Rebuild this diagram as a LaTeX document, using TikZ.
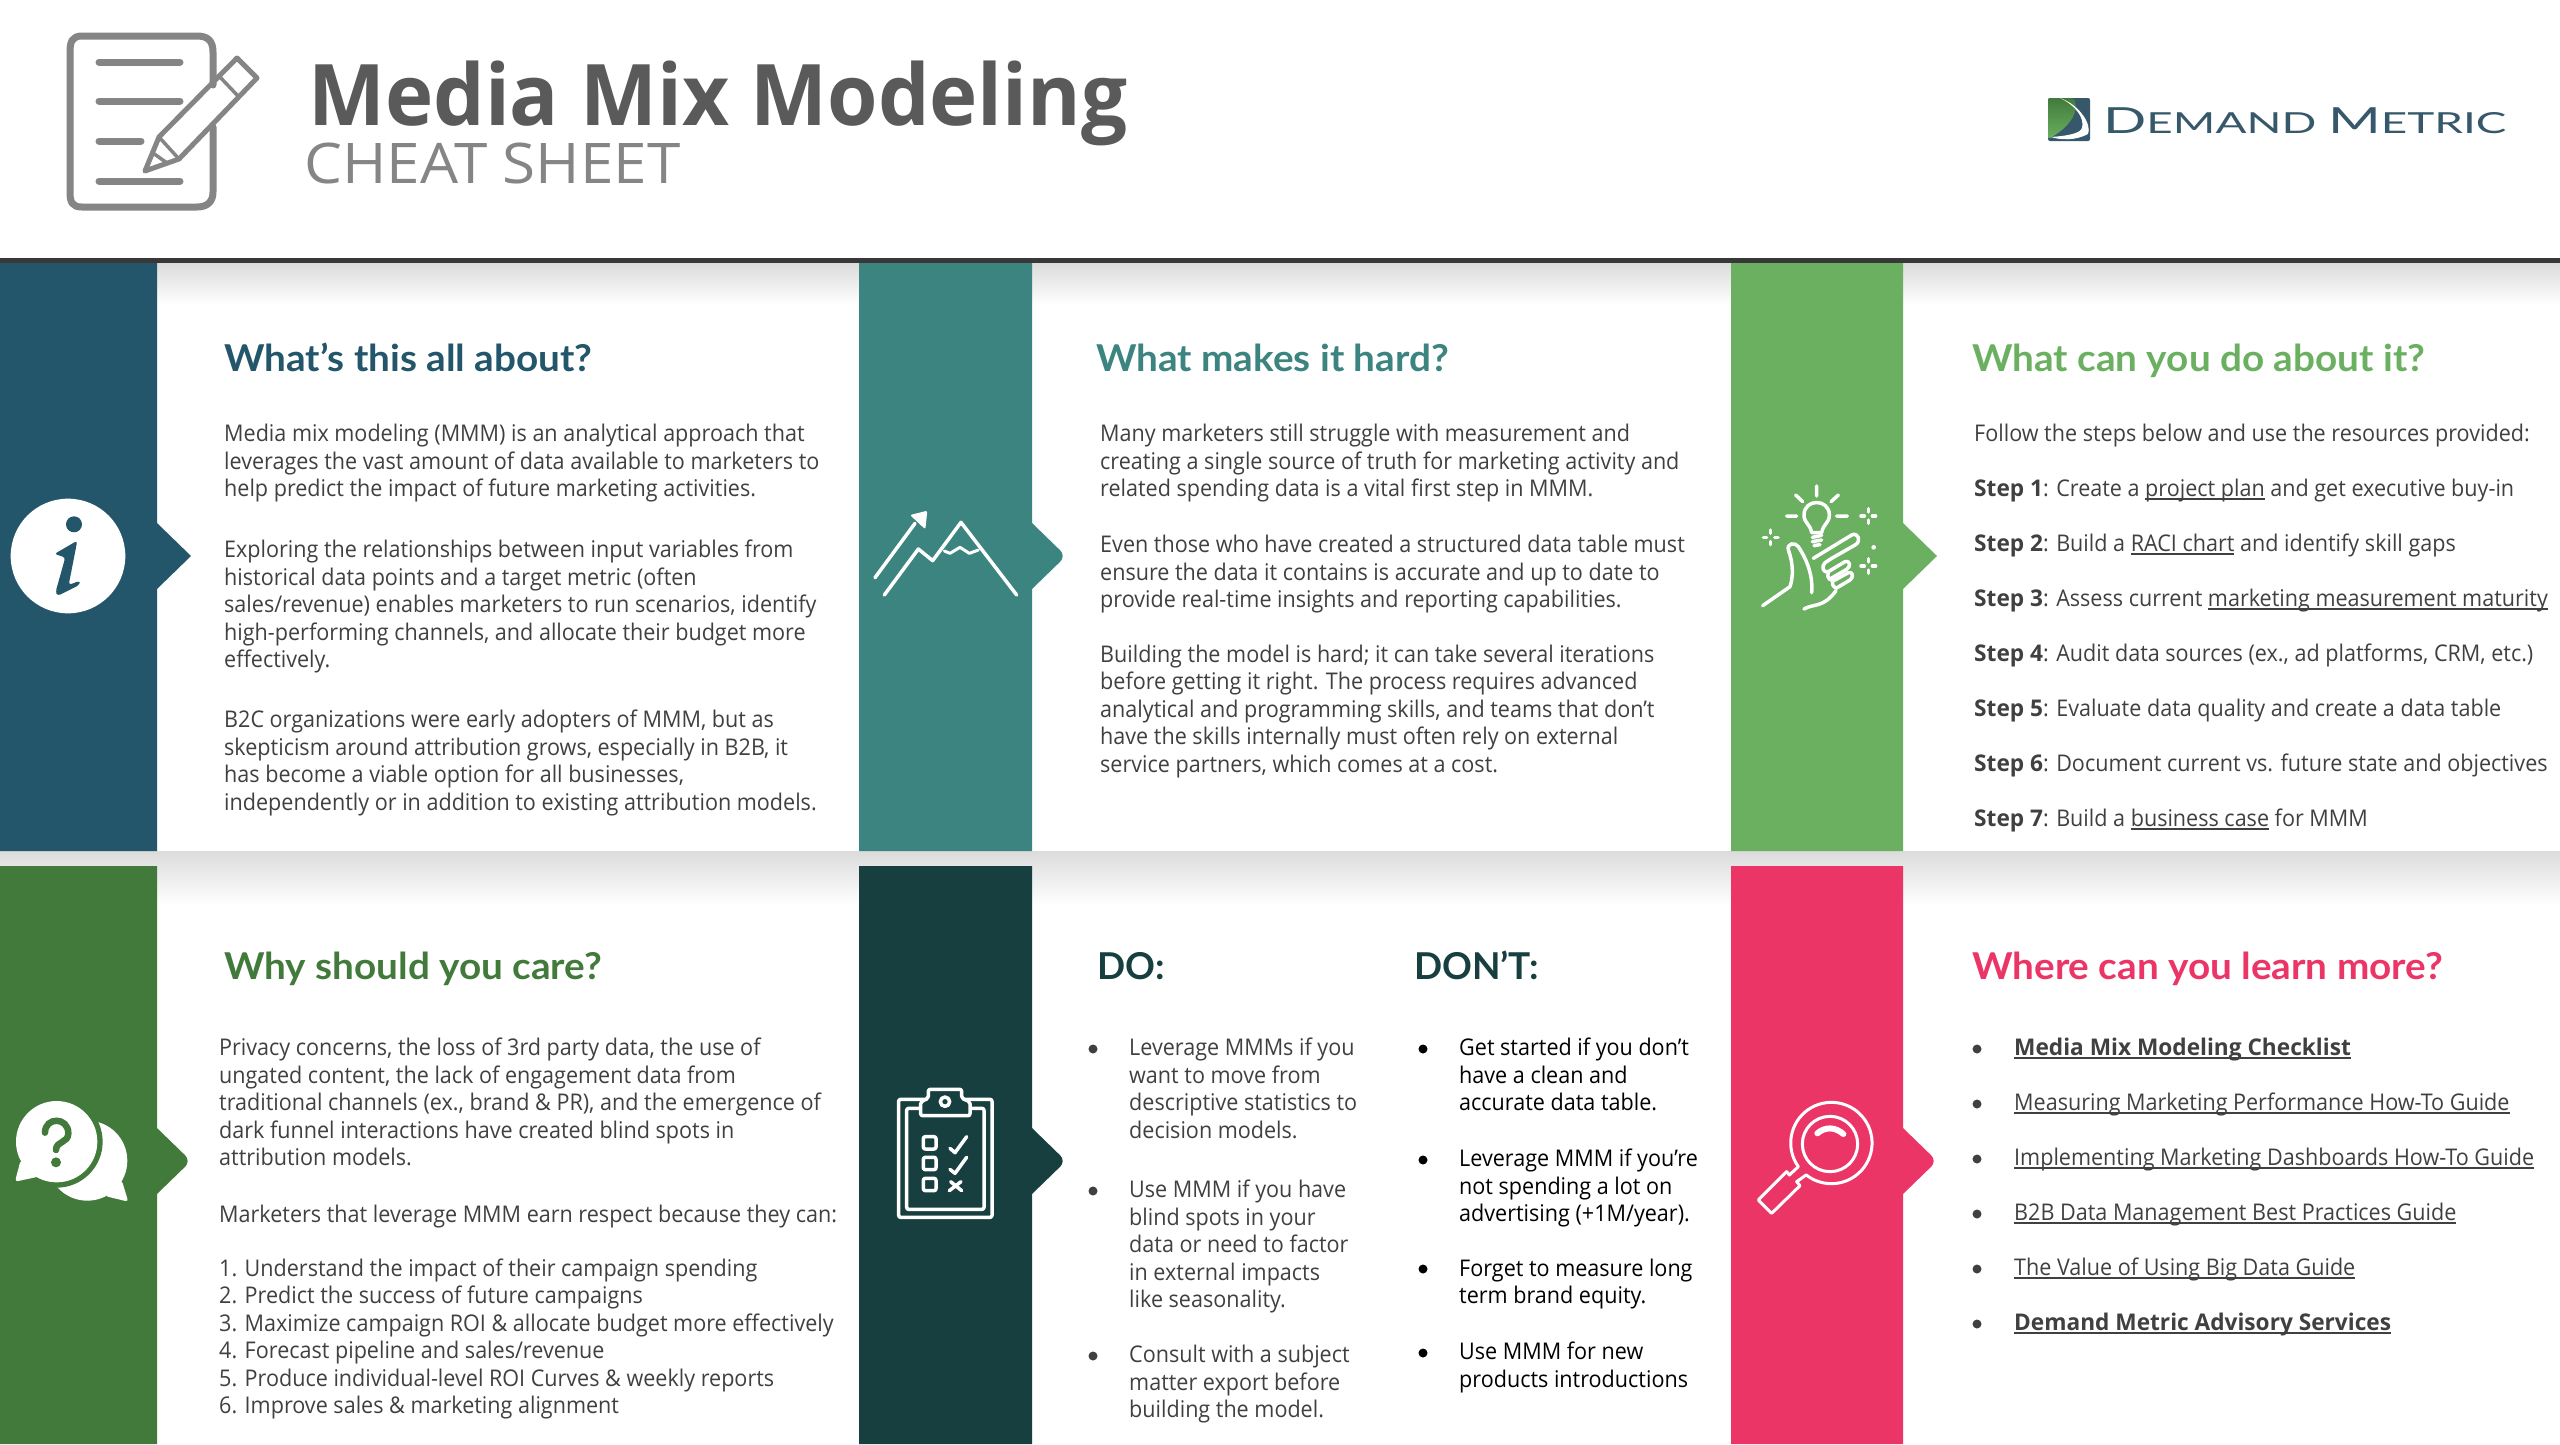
\documentclass[tikz,border=0pt]{standalone}
\usepackage{fontspec}
\usepackage{xcolor}
\setmainfont{Open Sans}[FakeStretch=0.9375,BoldFeatures={FakeStretch=0.985}]
\newfontfamily\titlefont{Open Sans}[FakeStretch=0.96]
\newfontfamily\cheatfont{Open Sans}[FakeStretch=1.075]
\newfontfamily\headfont{Lato}[FakeStretch=1.045]
\newfontfamily\capsfont{Lato}
\usetikzlibrary{positioning}

\definecolor{barblue}{HTML}{23566B}
\definecolor{barteal}{HTML}{3C8480}
\definecolor{barlime}{HTML}{6AB060}
\definecolor{barmoss}{HTML}{427A3C}
\definecolor{barpine}{HTML}{173F3F}
\definecolor{barrose}{HTML}{EC3567}
\definecolor{bodygray}{HTML}{404040}
\definecolor{titlegray}{HTML}{5A5A5A}
\definecolor{icongray}{HTML}{858585}
\definecolor{logoblue}{HTML}{36586A}

\newcommand{\bodyfont}{\fontsize{23}{27.5}\selectfont}
\newcommand{\headsize}{\fontsize{37}{40}\selectfont\headfont\bfseries}

% strip with its tab: x0, x1, top, bottom, middle, colour, tip radius
\newcommand{\sidebar}[7]{
  \fill[#6] (#1,#3) -- (#2,#3) -- (#2,#5-33) [rounded corners=#7] -- ({#2+34},#5) [sharp corners] -- (#2,#5+33) -- (#2,#4) -- (#1,#4) -- cycle;
}
% underline that runs through the descenders
\newcommand{\linkline}[1]{\setbox0\hbox{#1}\rlap{\rule[-3.2pt]{\wd0}{1.6pt}}\box0\relax}

\tikzset{
  bodytext/.style={font=\bodyfont,text=bodygray,align=left,anchor=north west,inner sep=0pt,yshift=-1.5pt,execute at begin node=\strut},
  headtext/.style={font=\headsize,anchor=base west,inner sep=0pt,yshift=-1.5pt},
  capshead/.style={headtext,font=\fontsize{37}{40}\selectfont\capsfont\bfseries},
  listdot/.style={circle,fill=bodygray,inner sep=0pt,minimum size=9pt},
  iconline/.style={draw=white,line width=3.5pt,line cap=round,line join=round},
  penline/.style={draw=icongray,line width=5pt,line cap=round,line join=round}
}

\begin{document}
\begin{tikzpicture}[x=1pt,y=-1pt]
  \useasboundingbox (0,0) rectangle (2560,1444);
  \fill[white] (0,0) rectangle (2560,1444);

  % header
  \shade[top color=black!14,bottom color=white] (0,263) rectangle (2560,305);
  \shade[top color=black!14,bottom color=white] (0,851) rectangle (2560,905);
  \fill[black!78] (0,258) rectangle (2560,263);

  \draw[penline,line width=7pt] (213,85) -- (213,52) .. controls (213,40) and (207,36) .. (197,36) -- (82,36) .. controls (72,36) and (70,42) .. (70,52) -- (70,192) .. controls (70,202) and (72,207) .. (82,207) -- (197,207) .. controls (207,207) and (213,202) .. (213,192) -- (213,127);
  \foreach \y/\xend in {62/180,101/180,141/141,181/180}
    \draw[icongray,line width=7pt,line cap=round] (99,\y) -- (\xend,\y);
  \draw[penline] (145,171) -- (159,137) -- (237,58) -- (257,78) -- (179,159) -- cycle;
  \draw[penline,line width=3.5pt] (159,137) -- (179,159) (153,153) -- (167,163) (219,76) -- (238,96);

  \node[font=\fontsize{85}{90}\selectfont\titlefont\bfseries,text=titlegray,anchor=base west,inner sep=0pt] (title) at (308,125.5) {Media Mix Modeling};
  \node[font=\fontsize{56}{60}\selectfont\cheatfont,text=icongray,anchor=base west,inner sep=0pt] (subtitle) at (304,183) {CHEAT SHEET};

  % logo
  \fill[logoblue,rounded corners=2pt] (2048,98) rectangle (2090,141);
  \shade[top color=barmoss,bottom color=barlime,rounded corners=2pt] (2048,98) -- (2074,98) .. controls (2080,115) and (2065,130) .. (2048,139) -- cycle;
  \fill[white] (2060,98) .. controls (2080,105) and (2092,125) .. (2088,134) .. controls (2075,141) and (2060,140) .. (2051,137) .. controls (2065,136) and (2080,134) .. (2082,128) .. controls (2085,118) and (2075,105) .. (2060,98) -- cycle;
  \node[text=logoblue,anchor=base west,inner sep=0pt] (logotext) at (2103,133) {\scalebox{1.58}[1]{\capsfont\fontsize{36}{40}\selectfont D\fontsize{29}{40}\selectfont EMAND \fontsize{36}{40}\selectfont M\fontsize{29}{40}\selectfont ETRIC}};

  % strips
  \sidebar{0}{157}{263}{851}{556}{barblue}{0.01pt}
  \sidebar{859}{1032}{263}{851}{556}{barteal}{8pt}
  \sidebar{1731}{1903}{263}{851}{556}{barlime}{0.01pt}
  \sidebar{0}{157}{866}{1444}{1161}{barmoss}{8pt}
  \sidebar{859}{1032}{866}{1444}{1161}{barpine}{8pt}
  \sidebar{1731}{1903}{866}{1444}{1161}{barrose}{8pt}

  % info icon
  \begin{scope}[shift={(0,470)},scale=1/3]
    \fill[white] (204,258) circle (172);
    \fill[barblue] (222,163) circle (24);
    \fill[barblue,rounded corners=3pt] (163,252) -- (232,212) -- (206,345) -- (240,332) -- (238,345) -- (172,378) -- (167,365) -- (196,262) -- cycle;
  \end{scope}

  % mountain icon
  \begin{scope}[shift={(850,470)},scale=1/3]
    \draw[iconline] (75,323) -- (195,160);
    \fill[white,rounded corners=2pt] (232,122) -- (180,135) -- (226,178) -- cycle;
    \draw[iconline] (103,375) -- (205,237) -- (248,272) -- (333,157) -- (500,375);
    \draw[iconline,line width=3pt] (283,243) -- (300,250) -- (330,232) -- (358,250) -- (385,240);
  \end{scope}

  % idea icon
  \begin{scope}[shift={(1730,460)},scale=1/3]
    \draw[iconline] (260,78) -- (260,108) (197,105) -- (218,125) (325,105) -- (303,125) (170,168) -- (200,168) (320,168) -- (352,168);
    \draw[iconline] (245,218) .. controls (240,190) and (222,190) .. (222,165) .. controls (222,115) and (298,115) .. (298,165) .. controls (298,190) and (280,190) .. (275,218) -- cycle;
    \draw[iconline] (247,232) -- (275,226) (247,245) -- (275,240) (252,257) -- (270,254);
    \foreach \cx/\cy in {415/168,122/232,415/318}
      \draw[iconline] (\cx,\cy-22) -- (\cx,\cy-12) (\cx,\cy+12) -- (\cx,\cy+22) (\cx-22,\cy) -- (\cx-12,\cy) (\cx+12,\cy) -- (\cx+22,\cy);
    \fill[white] (431,262) circle (7);
    \draw[iconline] (250,295) -- (365,225) .. controls (385,215) and (395,245) .. (375,255) -- (305,295);
    \draw[iconline] (305,295) -- (285,308) .. controls (272,320) and (280,340) .. (295,335) -- (345,305) .. controls (358,298) and (365,320) .. (350,328) -- (298,358);
    \draw[iconline] (295,338) .. controls (288,350) and (300,365) .. (315,360) -- (355,338) .. controls (368,332) and (372,352) .. (360,360) -- (318,385) .. controls (308,378) and (304,370) .. (308,362);
    \draw[iconline] (222,447) .. controls (250,430) and (280,445) .. (318,392);
    \draw[iconline] (245,398) .. controls (250,340) and (225,290) .. (205,260) .. controls (195,245) and (170,250) .. (175,270) .. controls (190,310) and (190,350) .. (180,380) -- (98,437);
  \end{scope}

  % question icon
  \begin{scope}[shift={(0,1070)},scale=1/3]
    \fill[white] (262,272) circle (120);
    \fill[white,rounded corners=3pt] (365,330) -- (385,395) -- (315,378) -- cycle;
    \fill[barmoss] (170,215) circle (138);
    \fill[white] (170,215) circle (122);
    \fill[white,rounded corners=3pt] (62,270) -- (45,335) -- (115,320) -- cycle;
    \draw[barmoss,line width=6.5pt,line cap=round] (135,188) .. controls (135,140) and (205,140) .. (205,190) .. controls (205,220) and (168,212) .. (168,240);
    \fill[barmoss] (168,277) circle (15);
  \end{scope}

  % checklist icon
  \begin{scope}[shift={(860,1070)},scale=1/3]
    \draw[iconline,rounded corners=2pt] (116,88) rectangle (396,442);
    \draw[iconline,rounded corners=2pt] (140,115) rectangle (372,418);
    \draw[iconline,fill=barpine,rounded corners=2pt] (182,137) -- (330,137) -- (330,95) -- (305,85) -- (305,58) -- (205,58) -- (205,85) -- (182,95) -- cycle;
    \draw[iconline] (255,95) circle (14);
    \foreach \y in {200,262,325}
      \draw[iconline,rounded corners=2pt] (190,\y) rectangle (228,\y+37);
    \draw[iconline] (270,235) -- (285,248) -- (320,200);
    \draw[iconline] (270,298) -- (285,310) -- (320,262);
    \draw[iconline] (272,335) -- (305,362) (303,335) -- (268,362);
  \end{scope}

  % search icon
  \begin{scope}[shift={(1730,1070)},scale=1/3]
    \draw[iconline,line width=3pt] (205,290) arc[start angle=144.4,end angle=487.7,radius=122] -- (228,315) -- (200,335) -- (210,347) -- (125,430) -- (85,390) -- (170,305) -- (178,315) -- cycle;
    \draw[iconline,line width=3pt] (300,222) circle (83);
    \draw[iconline,line width=6pt] (262,190) .. controls (285,170) and (315,170) .. (340,192);
  \end{scope}

  % what's this all about
  \node[headtext,text=barblue] (abouthead) at (224,370) {What’s this all about?};
  \node[bodytext] (abouttexta) at (224,422.7) {Media mix modeling (MMM) is an analytical approach that\\leverages the vast amount of data available to marketers to\\help predict the impact of future marketing activities.};
  \node[bodytext] (abouttextb) at (224,538.6) {Exploring the relationships between input variables from\\historical data points and a target metric (often\\sales/revenue) enables marketers to run scenarios, identify\\high-performing channels, and allocate their budget more\\effectively.};
  \node[bodytext] (abouttextc) at (224,708.4) {B2C organizations were early adopters of MMM, but as\\skepticism around attribution grows, especially in B2B, it\\has become a viable option for all businesses,\\independently or in addition to existing attribution models.};

  % what makes it hard
  \node[headtext,text=barteal] (hardhead) at (1096,370) {What makes it hard?};
  \node[bodytext] (hardtexta) at (1100,422.7) {Many marketers still struggle with measurement and\\creating a single source of truth for marketing activity and\\related spending data is a vital first step in MMM.};
  \node[bodytext] (hardtextb) at (1100,533.7) {Even those who have created a structured data table must\\ensure the data it contains is accurate and up to date to\\provide real-time insights and reporting capabilities.};
  \node[bodytext] (hardtextc) at (1100,643) {Building the model is hard; it can take several iterations\\before getting it right. The process requires advanced\\analytical and programming skills, and teams that don’t\\have the skills internally must often rely on external\\service partners, which comes at a cost.};

  % what can you do
  \node[headtext,text=barlime] (stephead) at (1972,370) {What can you do about it?};
  \node[bodytext] (steptext) at (1974,422.7) {Follow the steps below and use the resources provided:\\[27.5pt]
    \textbf{Step 1}: Create a \linkline{project plan} and get executive buy-in\\[27.5pt]
    \textbf{Step 2}: Build a \linkline{RACI chart} and identify skill gaps\\[27.5pt]
    \textbf{Step 3}: Assess current \linkline{marketing measurement maturity}\\[27.5pt]
    \textbf{Step 4}: Audit data sources (ex., ad platforms, CRM, etc.)\\[27.5pt]
    \textbf{Step 5}: Evaluate data quality and create a data table\\[27.5pt]
    \textbf{Step 6}: Document current vs. future state and objectives\\[27.5pt]
    \textbf{Step 7}: Build a \linkline{business case} for MMM};

  % why care
  \node[headtext,text=barmoss] (carehead) at (224,978) {Why should you care?};
  \node[bodytext] (caretexta) at (219,1036.6) {Privacy concerns, the loss of 3rd party data, the use of\\ungated content, the lack of engagement data from\\traditional channels (ex., brand \& PR), and the emergence of\\dark funnel interactions have created blind spots in\\attribution models.};
  \node[bodytext] (caretextb) at (219,1201.5) {Marketers that leverage MMM earn respect because they can:};
  \node[bodytext] (caretextc) at (219,1257) {1. Understand the impact of their campaign spending\\2. Predict the success of future campaigns\\3. Maximize campaign ROI \& allocate budget more effectively\\4. Forecast pipeline and sales/revenue\\5. Produce individual-level ROI Curves \& weekly reports\\6. Improve sales \& marketing alignment};

  % do
  \node[capshead,text=barpine] (dohead) at (1097,978) {DO:};
  \node[bodytext] (dotexta) at (1129,1036.6) {Leverage MMMs if you\\want to move from\\descriptive statistics to\\decision models.};
  \node[bodytext] (dotextb) at (1129,1178.6) {Use MMM if you have\\blind spots in your\\data or need to factor\\in external impacts\\like seasonality.};
  \node[bodytext] (dotextc) at (1129,1343.5) {Consult with a subject\\matter export before\\building the model.};
  \foreach \y in {1049,1191,1356}
    \node[listdot] (dodot\y) at (1093,\y) {};

  % do not
  \node[capshead,text=barpine] (donthead) at (1414,978) {DON’T:};
  \node[bodytext,text=black] (donttexta) at (1459,1036.6) {Get started if you don’t\\have a clean and\\accurate data table.};
  \node[bodytext,text=black] (donttextb) at (1459,1147.6) {Leverage MMM if you’re\\not spending a lot on\\advertising (+1M/year).};
  \node[bodytext,text=black] (donttextc) at (1459,1257) {Forget to measure long\\term brand equity.};
  \node[bodytext,text=black] (donttextd) at (1459,1340.2) {Use MMM for new\\products introductions};
  \foreach \y in {1049,1160,1269,1353}
    \node[listdot,fill=black] (dontdot\y) at (1423,\y) {};

  % learn more
  \node[headtext,text=barrose] (learnhead) at (1972,978) {Where can you learn more?};
  \node[bodytext] (learntext) at (2014,1036.6) {\textbf{\linkline{Media Mix Modeling Checklist}}\\[27.5pt]
    \linkline{Measuring Marketing Performance How-To Guide}\\[27.5pt]
    \linkline{Implementing Marketing Dashboards How-To Guide}\\[27.5pt]
    \linkline{B2B Data Management Best Practices Guide}\\[27.5pt]
    \linkline{The Value of Using Big Data Guide}\\[27.5pt]
    \textbf{\linkline{Demand Metric Advisory Services}}};
  \foreach \y in {1049,1104,1159,1214,1269,1324}
    \node[listdot] (learndot\y) at (1977,\y) {};
\end{tikzpicture}
\end{document}
